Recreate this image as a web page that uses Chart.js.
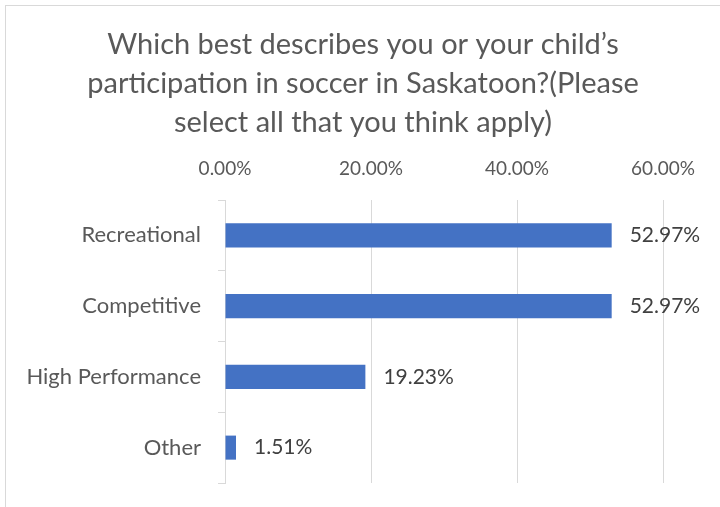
<!DOCTYPE html>
<html>
<head>
<meta charset="utf-8">
<script src="https://cdn.jsdelivr.net/npm/chart.js@4/dist/chart.umd.min.js"></script>
<style>
  html, body { margin: 0; padding: 0; background: #ffffff; }
  canvas { display: block; }
</style>
</head>
<body>
<canvas id="c" width="720" height="507"></canvas>
<script>
const categories = ["Recreational", "Competitive", "High Performance", "Other"];
const values = [52.97, 52.97, 19.23, 1.51];
const tickValues = [0, 20, 40, 60];
const titleLines = [
  "Which best describes you or your child\u2019s",
  "participation in soccer in Saskatoon?(Please",
  "select all that you think apply)"
];

const FONT = "Lato, 'Open Sans', sans-serif";

const borderPlugin = {
  id: 'outerBorder',
  beforeDraw(chart) {
    const ctx = chart.ctx;
    ctx.save();
    ctx.fillStyle = '#ffffff';
    ctx.fillRect(0, 0, chart.width, chart.height);
    ctx.strokeStyle = '#d9d9d9';
    ctx.lineWidth = 1;
    ctx.strokeRect(5.5, 5.5, chart.width + 10, chart.height + 10);
    ctx.restore();
  }
};

const valueLabels = {
  id: 'valueLabels',
  afterDatasetsDraw(chart) {
    const ctx = chart.ctx;
    ctx.save();
    ctx.font = "21px " + FONT;
    ctx.fillStyle = '#404040';
    ctx.textAlign = 'left';
    ctx.textBaseline = 'middle';
    chart.getDatasetMeta(0).data.forEach((el, i) => {
      ctx.fillText(values[i].toFixed(2) + '%', el.x + 18, el.y);
    });
    ctx.restore();
  }
};

function zeroPad(s) {
  s.paddingTop = 0; s.paddingBottom = 0; s.paddingLeft = 0; s.paddingRight = 0;
}

new Chart(document.getElementById('c'), {
  type: 'bar',
  data: {
    labels: categories,
    datasets: [{
      data: values,
      backgroundColor: '#4472C4',
      borderWidth: 0,
      barPercentage: 0.34,
      categoryPercentage: 1.0
    }]
  },
  options: {
    indexAxis: 'y',
    responsive: false,
    animation: false,
    devicePixelRatio: 1,
    layout: { padding: { left: 6, right: 0, top: 0, bottom: 24 } },
    plugins: {
      legend: { display: false },
      tooltip: { enabled: false },
      title: {
        display: true,
        text: titleLines,
        color: '#595959',
        font: { family: FONT, size: 29, weight: 'normal', lineHeight: '39px' },
        padding: { top: 25, bottom: 10 }
      }
    },
    scales: {
      x: {
        position: 'top',
        min: 0,
        max: 60,
        afterBuildTicks(s) { s.ticks = tickValues.map(v => ({ value: v })); },
        afterFit(s) { s.height = 48; zeroPad(s); },
        ticks: {
          color: '#595959',
          font: { family: FONT, size: 19 },
          padding: 20,
          callback: v => Number(v).toFixed(2) + '%'
        },
        grid: { color: '#d9d9d9', lineWidth: 1, drawTicks: false },
        border: { display: false }
      },
      y: {
        position: 'left',
        afterFit(s) { s.width = 219; zeroPad(s); },
        ticks: {
          color: '#595959',
          font: { family: FONT, size: 22 },
          padding: 17
        },
        grid: { color: '#d9d9d9', drawOnChartArea: false, tickLength: 7, offset: true },
        border: { display: true, color: '#d9d9d9' }
      },
      yR: {
        type: 'category',
        position: 'right',
        display: true,
        afterFit(s) { s.width = 57; zeroPad(s); },
        ticks: { display: false },
        grid: { display: false, drawTicks: false },
        border: { display: false }
      }
    }
  },
  plugins: [borderPlugin, valueLabels]
});
</script>
</body>
</html>
